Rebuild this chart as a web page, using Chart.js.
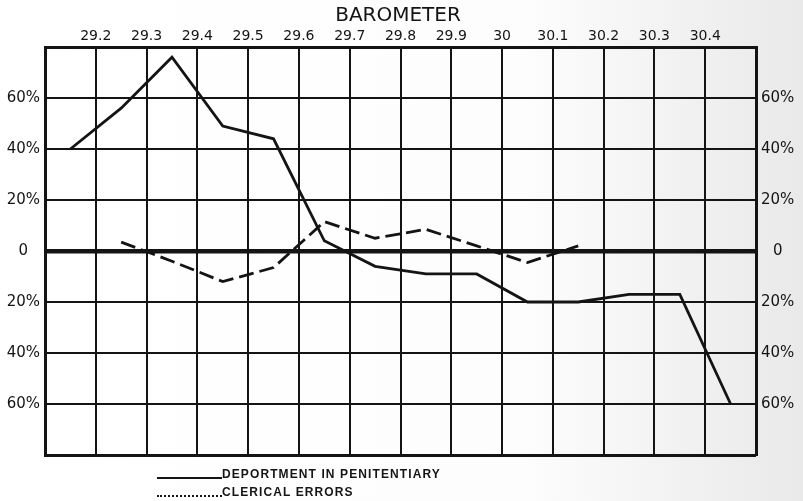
<!DOCTYPE html>
<html>
<head>
<meta charset="utf-8">
<title>Barometer</title>
<script src="https://cdn.jsdelivr.net/npm/chart.js@4.4.1/dist/chart.umd.min.js"></script>
<style>
    html, body { margin: 0; padding: 0; }
    body {
        width: 803px;
        height: 501px;
        overflow: hidden;
        position: relative;
        background: linear-gradient(90deg, #ffffff 0%, #fdfdfd 65%, #e9e9e9 100%);
    }
    #chartBox { position: absolute; left: 0; top: 0; width: 803px; height: 501px; }
    .legend-row {
        position: absolute;
        left: 157px;
        display: flex;
        align-items: flex-end;
        font: bold 12px "Liberation Sans", Arial, sans-serif;
        letter-spacing: 1.1px;
        color: #151515;
        line-height: 14px;
    }
    .legend-row .sample { width: 65px; height: 0; margin-bottom: 2px; }
    .legend-row .solid { border-top: 2px solid #151515; }
    .legend-row .dotted { border-top: 2px dotted #151515; }
</style>
</head>
<body>
<div id="chartBox"><canvas id="baroChart"></canvas></div>
<div class="legend-row" style="top:467px"><span class="sample solid"></span><span id="legendDeportment"></span></div>
<div class="legend-row" style="top:485px"><span class="sample dotted"></span><span id="legendClerical"></span></div>

<script>
// ---- data ----
const pressure = [29.15, 29.25, 29.35, 29.45, 29.55, 29.65, 29.75, 29.85, 29.95, 30.05, 30.15, 30.25, 30.35, 30.45];
const deportment = [40, 56, 76, 49, 44, 4, -6, -9, -9, -20, -20, -17, -17, -60];
const clerical = [null, 3.5, -4, -12, -6.5, 11.5, 5, 8.5, 2, -4.5, 2, null, null, null];

const barometerTicks = ['29.2', '29.3', '29.4', '29.5', '29.6', '29.7', '29.8', '29.9', '30', '30.1', '30.2', '30.3', '30.4'];
const percentTicks = ['', '60%', '40%', '20%', '0', '20%', '40%', '60%', ''];
const seriesNames = ['DEPORTMENT IN PENITENTIARY', 'CLERICAL ERRORS'];

const INK = '#141414';
const tickFont = { family: '"DejaVu Sans", sans-serif', size: 15 };

document.getElementById('legendDeportment').textContent = seriesNames[0];
document.getElementById('legendClerical').textContent = seriesNames[1];

const toPoints = values => values.map((v, i) => ({ x: pressure[i], y: v }));

const percentTick = (value, index) => percentTicks[index] ?? '';

const ctx = document.getElementById('baroChart').getContext('2d');

new Chart(ctx, {
    type: 'line',
    data: {
        datasets: [
            {
                label: seriesNames[0],
                data: toPoints(deportment),
                borderColor: INK,
                borderWidth: 2.8,
                pointRadius: 0,
                tension: 0
            },
            {
                label: seriesNames[1],
                data: toPoints(clerical),
                borderColor: INK,
                borderWidth: 2.8,
                borderDash: [15, 6],
                pointRadius: 0,
                tension: 0,
                spanGaps: false
            }
        ]
    },
    options: {
        responsive: true,
        maintainAspectRatio: false,
        animation: false,
        layout: { padding: { top: 0, left: 0, right: 7, bottom: 46 } },
        plugins: {
            legend: { display: false },
            tooltip: { enabled: false },
            title: {
                display: true,
                text: 'BAROMETER',
                color: INK,
                font: { family: '"DejaVu Sans", sans-serif', size: 20, weight: 'normal' },
                padding: { top: 4, bottom: 2 }
            }
        },
        scales: {
            x: {
                type: 'linear',
                position: 'top',
                min: 29.1,
                max: 30.5,
                afterFit: scale => { scale.height = 17; },
                ticks: {
                    stepSize: 0.1,
                    color: INK,
                    font: { family: '"DejaVu Sans", sans-serif', size: 14 },
                    padding: 2,
                    maxRotation: 0,
                    autoSkip: false,
                    callback: (value, index, ticks) =>
                        (index === 0 || index === ticks.length - 1) ? '' : (barometerTicks[index - 1] ?? '')
                },
                grid: {
                    color: INK,
                    drawTicks: false,
                    lineWidth: c => (c.index === 0 || c.index === 14) ? 3 : 2
                },
                border: { display: true, color: INK, width: 3 }
            },
            y: {
                position: 'left',
                min: -80,
                max: 80,
                afterFit: scale => { scale.width = 45; },
                ticks: {
                    stepSize: 20,
                    color: INK,
                    font: tickFont,
                    padding: 5,
                    crossAlign: 'center',
                    callback: percentTick
                },
                grid: {
                    color: INK,
                    drawTicks: false,
                    lineWidth: c => {
                        const v = c.tick ? c.tick.value : 1;
                        if (v === 0) return 4.5;
                        if (Math.abs(v) === 80) return 3;
                        return 2;
                    }
                },
                border: { display: true, color: INK, width: 3 }
            },
            y2: {
                position: 'right',
                min: -80,
                max: 80,
                afterFit: scale => { scale.width = 40; },
                ticks: {
                    stepSize: 20,
                    color: INK,
                    font: tickFont,
                    padding: 5,
                    crossAlign: 'center',
                    callback: percentTick
                },
                grid: { display: false, drawTicks: false },
                border: { display: true, color: INK, width: 3 }
            }
        }
    }
});
</script>
</body>
</html>
